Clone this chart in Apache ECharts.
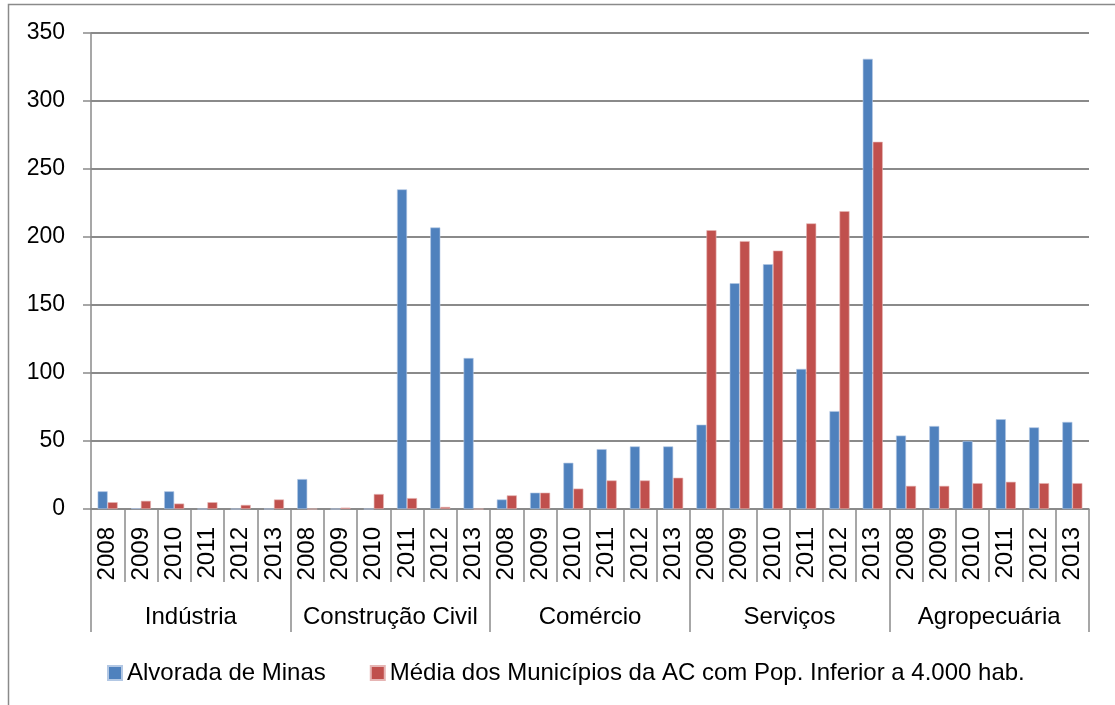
<!DOCTYPE html>
<html>
<head>
<meta charset="utf-8">
<script src="https://cdn.jsdelivr.net/npm/echarts@6/dist/echarts.min.js"></script>
<style>
  html, body { margin: 0; padding: 0; background: #fff; }
  #main { width: 1115px; height: 705px; }
</style>
</head>
<body>
<div id="main"></div>
<script>
// anos e setores
const years = ['2008', '2009', '2010', '2011', '2012', '2013'];
const groups = ['Indústria', 'Construção Civil', 'Comércio', 'Serviços', 'Agropecuária'];

// valores (6 anos por setor)
const alvorada = [
  13, 0.5, 13, 0, 0, 0,
  22, 0, 0, 235, 207, 111,
  7, 12, 34, 44, 46, 46,
  62, 166, 180, 103, 72, 331,
  54, 61, 50, 66, 60, 64
];
const media = [
  5, 6, 4, 5, 3, 7,
  0, 1, 11, 8, 1.5, 0,
  10, 12, 15, 21, 21, 23,
  205, 197, 190, 210, 219, 270,
  17, 17, 19, 20, 19, 19
];
const yTicks = [0, 50, 100, 150, 200, 250, 300, 350];

const seriesNames = ['Alvorada de Minas', 'Média dos Municípios da AC com Pop. Inferior a 4.000 hab.'];

// categorias únicas: setor|ano
const categories = [];
groups.forEach(g => years.forEach(y => categories.push(g + '|' + y)));

const font = 'Liberation Sans';
const lineColor = '#8a8a8a';

const chart = echarts.init(document.getElementById('main'));
chart.setOption({
    animation: false,
    textStyle: { fontFamily: font },
    grid: { left: 91, top: 33, right: 26, bottom: 196, containLabel: false },
    graphic: [{
        type: 'rect',
        shape: { x: 8.5, y: 4.5, width: 1200, height: 800 },
        style: { fill: 'none', stroke: lineColor, lineWidth: 1.5 },
        silent: true
    }],
    legend: {
        left: 102,
        top: 656,
        icon: 'rect',
        itemWidth: 14,
        itemHeight: 14,
        itemGap: 44,
        textStyle: { fontSize: 24, color: '#000', fontFamily: font },
        data: seriesNames
    },
    xAxis: [
        {
            type: 'category',
            data: categories,
            axisLine: { show: true, onZero: false, lineStyle: { color: lineColor, width: 1.5 } },
            axisTick: { show: true, interval: 0, length: 73, lineStyle: { color: lineColor, width: 1.5 } },
            axisLabel: {
                interval: 0,
                rotate: 90,
                margin: 18,
                fontSize: 24,
                color: '#000',
                formatter: v => v.split('|')[1]
            }
        },
        {
            type: 'category',
            data: groups,
            position: 'bottom',
            offset: 0,
            axisLine: { show: false, onZero: false },
            axisTick: { show: true, interval: 0, length: 123, lineStyle: { color: lineColor, width: 1.5 } },
            axisLabel: { interval: 0, margin: 96, fontSize: 24, color: '#000' }
        }
    ],
    yAxis: {
        type: 'value',
        min: yTicks[0],
        max: yTicks[yTicks.length - 1],
        interval: 50,
        axisLine: { show: true, lineStyle: { color: lineColor, width: 1.5 } },
        axisTick: { show: true, length: 8, lineStyle: { color: lineColor, width: 1.5 } },
        axisLabel: { margin: 26, fontSize: 23, color: '#000' },
        splitLine: { lineStyle: { color: lineColor, width: 2 } }
    },
    series: [
        {
            name: seriesNames[0],
            type: 'bar',
            xAxisIndex: 0,
            data: alvorada,
            barWidth: 10,
            barGap: '0%',
            itemStyle: { color: '#4F81BD', borderColor: '#b3c8e4', borderWidth: 0.6 }
        },
        {
            name: seriesNames[1],
            type: 'bar',
            xAxisIndex: 0,
            data: media,
            barWidth: 10,
            barGap: '0%',
            itemStyle: { color: '#C0504D', borderColor: '#e6b5b4', borderWidth: 0.6 }
        }
    ]
});
</script>
</body>
</html>
